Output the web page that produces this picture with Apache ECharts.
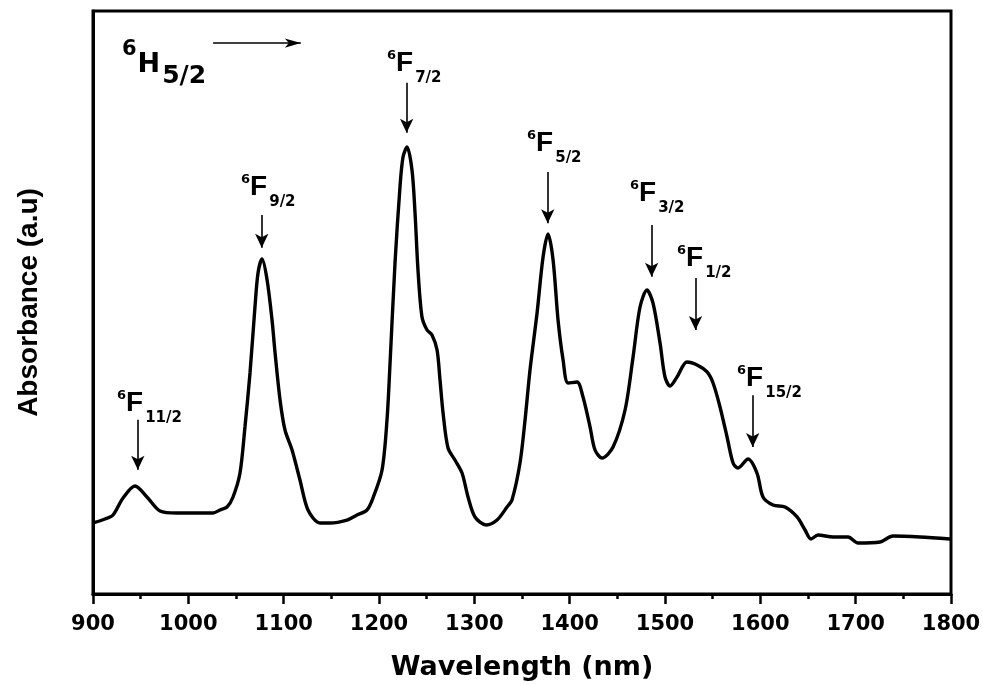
<!DOCTYPE html>
<html>
<head>
<meta charset="utf-8">
<title>Absorption spectrum</title>
<script src="https://cdn.jsdelivr.net/npm/echarts@6/dist/echarts.min.js"></script>
<style>
  html, body { margin: 0; padding: 0; background: #ffffff; }
  #chart { width: 983px; height: 685px; }
</style>
</head>
<body>
<div id="chart"></div>
<script>
// Absorption spectrum (arbitrary units) versus wavelength in nm
const wavelength = [
  900.0, 912.6, 921.0, 931.5, 944.1, 956.6, 970.3, 988.1, 1025.9, 1033.2,
  1040.6, 1046.9, 1054.2, 1059.4, 1064.7, 1069.9, 1073.1, 1077.3, 1082.5, 1087.8,
  1090.9, 1096.2, 1101.4, 1108.8, 1117.1, 1125.5, 1138.1, 1148.6, 1166.4, 1176.9,
  1187.4, 1193.7, 1203.2, 1208.4, 1211.6, 1216.8, 1222.0, 1225.2, 1229.4, 1234.6,
  1237.8, 1240.9, 1245.1, 1250.4, 1255.6, 1260.9, 1264.0, 1267.2, 1272.4, 1279.7,
  1287.1, 1293.4, 1300.7, 1312.3, 1323.8, 1334.3, 1339.5, 1347.9, 1353.2, 1358.4,
  1365.8, 1372.1, 1377.3, 1382.6, 1387.8, 1393.1, 1398.3, 1407.7, 1414.0, 1421.4,
  1426.6, 1434.0, 1445.5, 1458.1, 1466.5, 1473.8, 1481.1, 1487.4, 1494.8, 1500.0,
  1505.3, 1512.6, 1523.1, 1533.6, 1544.1, 1550.4, 1557.7, 1565.1, 1571.4, 1576.6,
  1587.1, 1596.5, 1602.8, 1613.3, 1625.9, 1638.5, 1646.9, 1653.2, 1660.5, 1676.3,
  1692.0, 1702.5, 1725.6, 1739.2, 1767.5, 1799.0
];
const absorbance = [
  12.18, 12.86, 13.55, 16.47, 18.52, 16.64, 14.24, 13.89, 13.89, 14.41,
  14.92, 16.64, 20.75, 28.64, 37.91, 49.23, 55.06, 57.46, 54.00, 47.00,
  41.50, 33.28, 28.13, 24.70, 19.55, 14.41, 12.18, 12.18, 12.69, 13.55,
  14.41, 16.47, 21.27, 29.85, 39.62, 56.78, 69.81, 74.96, 76.67, 72.73,
  65.35, 55.57, 47.51, 45.28, 44.43, 41.85, 36.71, 31.05, 25.04, 22.98,
  20.75, 16.64, 13.21, 11.84, 12.69, 14.92, 16.12, 22.47, 29.85, 38.42,
  48.20, 57.80, 61.75, 57.29, 47.00, 40.14, 36.19, 36.36, 33.79, 28.64,
  24.70, 23.33, 25.21, 31.56, 40.65, 49.23, 52.14, 49.91, 43.05, 37.22,
  35.68, 37.22, 39.79, 39.28, 38.08, 36.19, 32.08, 26.93, 22.47, 21.61,
  23.16, 20.75, 16.64, 15.27, 14.92, 13.21, 10.98, 9.43, 10.12, 9.78,
  9.78, 8.75, 8.92, 9.95, 9.78, 9.43
];

// Excited 6F_J levels: J label, band wavelength, arrow start and tip (absorbance units)
const levelJ = ['11/2', '9/2', '7/2', '5/2', '3/2', '1/2', '15/2'];
const levelWavelength = [947, 1077, 1229, 1377, 1486, 1532, 1592];
const arrowStart = [29.9, 65.0, 87.7, 72.4, 63.3, 54.2, 34.1];
const arrowTip = [21.3, 59.4, 79.1, 63.6, 54.4, 45.3, 25.2];
// Upper-left corner of each level label (wavelength, absorbance)
const labelWavelength = [925.2, 1055.3, 1208.4, 1355.3, 1463.3, 1512.6, 1575.6];
const labelTop = [34.65, 71.7, 92.97, 79.25, 70.67, 59.52, 38.94];

// Ground state 6H5/2 label and its horizontal arrow
const groundLabel = { sup: '6', main: 'H', sub: '5/2', at: [930.4, 95.2] };
const groundArrow = { from: [1026, 94.5], to: [1118, 94.5] };

// x-axis range and tick step
const xMin = 900, xMax = 1800, xStep = 100;

const spectrum = wavelength.map((w, i) => [w, absorbance[i]]);

const levelMarks = levelJ.map((j, i) => ({
  value: [labelWavelength[i], labelTop[i]],
  j: j
}));

const arrowLines = levelJ.map((j, i) => [
  { coord: [levelWavelength[i], arrowStart[i]] },
  { coord: [levelWavelength[i], arrowTip[i]] }
]);
arrowLines.push([
  { coord: groundArrow.from },
  { coord: groundArrow.to, symbolSize: [7, 16] }
]);

const ink = '#000000';
const bold = 'bold';
const sansFont = 'Liberation Sans, Arial, sans-serif';
const wideFont = 'DejaVu Sans, Verdana, sans-serif';

function richToken(size, family, lineHeight, padding) {
  return {
    fontSize: size, fontWeight: bold, fontFamily: family,
    color: ink, opacity: 1, textBorderWidth: 0,
    lineHeight: lineHeight, verticalAlign: 'top',
    padding: padding || [0, 0, 0, 0]
  };
}

const chart = echarts.init(document.getElementById('chart'), null, { renderer: 'canvas' });

chart.setOption({
  backgroundColor: '#ffffff',
  animation: false,
  grid: {
    left: 93, right: 32, top: 11, bottom: 91,
    outerBoundsMode: 'none',
    containLabel: false,
    show: true,
    borderColor: ink,
    borderWidth: 3,
    backgroundColor: 'transparent'
  },
  xAxis: {
    type: 'value',
    min: xMin, max: xMax, interval: xStep,
    name: 'Wavelength (nm)',
    nameLocation: 'middle',
    nameGap: 60,
    nameTextStyle: { fontSize: 27, fontWeight: bold, fontFamily: wideFont, color: ink },
    axisLine: { show: true, onZero: false, lineStyle: { color: ink, width: 3 } },
    axisTick: { show: true, inside: false, length: 10, lineStyle: { color: ink, width: 2.5 } },
    minorTick: { show: true, splitNumber: 2, length: 5, lineStyle: { color: ink, width: 2.5 } },
    splitLine: { show: false },
    minorSplitLine: { show: false },
    axisLabel: {
      margin: 20,
      fontSize: 21,
      fontWeight: bold,
      fontFamily: wideFont,
      color: ink,
      formatter: v => String(v)
    }
  },
  yAxis: {
    type: 'value',
    min: 0, max: 100,
    name: 'Absorbance (a.u)',
    nameLocation: 'middle',
    nameGap: 50,
    nameTextStyle: { fontSize: 28, fontWeight: bold, fontFamily: sansFont, color: ink },
    axisLine: { show: true, lineStyle: { color: ink, width: 3 } },
    axisTick: { show: false },
    axisLabel: { show: false },
    splitLine: { show: false }
  },
  series: [
    {
      name: 'Absorbance',
      type: 'line',
      data: spectrum,
      smooth: 0.3,
      showSymbol: false,
      symbol: 'none',
      lineStyle: { color: ink, width: 3.4 },
      z: 3
    },
    {
      name: 'levels',
      type: 'scatter',
      data: levelMarks,
      symbolSize: 0,
      silent: true,
      z: 5,
      itemStyle: { color: ink },
      label: {
        show: true,
        color: ink,
        position: [0, -3],
        align: 'left',
        verticalAlign: 'top',
        formatter: p => '{sup|6}{main|F}{sub|' + p.data.j + '}',
        rich: {
          sup: richToken(13, wideFont, 12),
          main: richToken(28, sansFont, 28),
          sub: richToken(15, wideFont, 15, [22, 0, 0, 2])
        }
      },
      markLine: {
        silent: true,
        symbol: ['none', 'arrow'],
        symbolSize: [10, 14],
        label: { show: false },
        lineStyle: { color: ink, width: 1.6, type: 'solid', opacity: 1 },
        itemStyle: { color: ink },
        data: arrowLines
      }
    },
    {
      name: 'ground',
      type: 'scatter',
      data: [{ value: groundLabel.at }],
      symbolSize: 0,
      silent: true,
      z: 5,
      itemStyle: { color: ink },
      label: {
        show: true,
        color: ink,
        position: [0, 0],
        align: 'left',
        verticalAlign: 'top',
        formatter: '{sup|' + groundLabel.sup + '}{main|' + groundLabel.main + '}{sub|' + groundLabel.sub + '}',
        rich: {
          sup: richToken(21, wideFont, 22),
          main: richToken(27, wideFont, 27, [13, 0, 0, 1]),
          sub: richToken(25, wideFont, 26, [25, 0, 0, 2])
        }
      }
    }
  ]
});
</script>
</body>
</html>
